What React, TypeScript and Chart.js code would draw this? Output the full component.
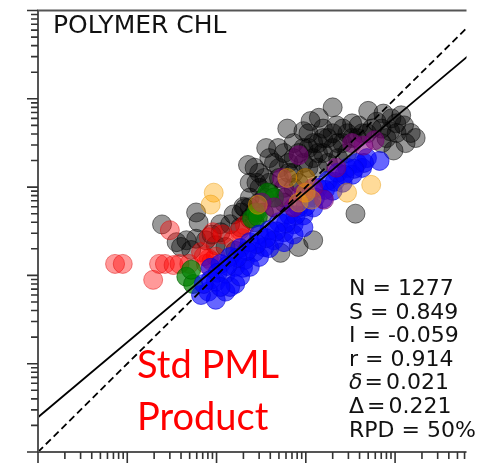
import React, { useEffect, useRef } from "react";
import { Chart, registerables } from "chart.js";

Chart.register(...registerables);

// ---- axis ranges (log10 chl) ----
const X_MIN = 0.001;
const X_MAX = 63.1;
const Y_MIN = 0.001;
const Y_MAX = 100;

// ---- statistics ----
const SLOPE = 0.849;
const INTERCEPT = -0.059;
const STAT_LINES = ["N = 1277", "S = 0.849", "I = -0.059", "r = 0.914", "δ|0.021", "Δ|0.221", "RPD = 50%"];
const TITLE = "POLYMER CHL";
const LABEL_LINES = ["Std PML", "Product"];

// ---- scatter series (in situ chl, satellite chl) ----
const BLACK_X = [0.0245, 0.0357, 0.04, 0.052, 0.046, 0.059, 0.063, 0.059, 0.076, 0.098, 0.126, 0.162, 0.155, 0.19, 0.208, 0.235, 0.2, 0.11, 0.088,
  0.267, 0.28, 0.235, 0.3, 0.344, 0.49, 0.62, 0.94, 1.13, 1.4, 2.0, 2.2, 2.6, 3.9, 5.0, 7.4, 11.7, 12.6, 10.4, 8.8, 9.6, 15, 13.1, 7.1, 6.2,
  3.6, 1.21, 0.83, 0.52, 0.73, 0.57, 0.83, 1.07, 1.37, 1.76, 0.44, 0.64, 0.94, 1.21, 1.56, 2.0, 2.58, 3.3, 4.3, 5.5, 0.5, 0.73, 0.99, 1.37,
  0.39, 0.57, 0.83, 0.3, 0.44, 0.235, 0.34, 0.267, 2.3, 2.9, 1.07, 1.56, 9.1, 3.3, 0.39, 0.36, 0.225, 0.57, 17,
  0.303, 0.39, 0.5, 0.645, 0.73, 0.94, 1.21, 1.56, 2.0, 2.27, 2.92, 3.76, 4.84, 7.06, 8.0, 10.3, 0.44, 0.57, 0.73, 1.07, 1.77, 1.37,
  0.344, 0.236, 0.267, 0.184, 0.142, 0.111];
const BLACK_Y = [0.378, 0.238, 0.21, 0.194, 0.25, 0.26, 0.4, 0.516, 0.25, 0.22, 0.21, 0.19, 0.49, 0.516, 0.58, 0.44, 0.6, 0.38, 0.29,
  1.66, 1.12, 1.12, 1.45, 1.27, 2.77, 4.6, 4.3, 5.6, 6.1, 8.0, 5.0, 4.6, 5.0, 7.3, 6.8, 6.5, 5.0, 4.1, 4.3, 2.6, 4.1, 3.15, 3.15, 5.5,
  0.5, 0.25, 0.21, 0.18, 3.15, 2.43, 2.43, 2.77, 3.15, 3.6, 1.88, 1.88, 1.88, 2.13, 2.43, 2.77, 3.15, 3.6, 4.07, 4.6, 1.27, 1.45, 1.27, 1.66,
  0.865, 0.98, 1.12, 0.668, 0.76, 0.59, 0.516, 0.4, 2.13, 2.43, 4.07, 4.6, 6.0, 5.27, 2.13, 2.77, 1.78, 0.668, 3.6,
  0.98, 1.12, 1.65, 1.45, 2.13, 2.77, 3.15, 3.59, 4.07, 3.15, 4.07, 3.59, 4.07, 4.6, 3.59, 5.27, 0.587, 0.76, 0.98, 1.65, 1.88, 2.43,
  0.76, 0.76, 0.516, 0.35, 0.38, 0.308];

const RED_X = [0.0073, 0.0089, 0.0195, 0.0227, 0.0264, 0.033, 0.0385, 0.0495, 0.03, 0.091, 0.117, 0.153, 0.193, 0.082, 0.098, 0.076, 0.067, 0.182, 0.208, 0.082, 0.088, 0.072];
const RED_Y = [0.135, 0.135, 0.089, 0.135, 0.135, 0.131, 0.135, 0.135, 0.325, 0.308, 0.292, 0.25, 0.264, 0.155, 0.163, 0.135, 0.184, 0.325, 0.37, 0.27, 0.145, 0.165];

const GREEN_X = [0.0459, 0.0546, 0.052, 0.37, 0.44, 0.28, 0.25, 0.29];
const GREEN_Y = [0.0966, 0.08, 0.116, 0.865, 0.76, 0.516, 0.44, 0.46];

const BLUE_X = [4.84, 6.7, 3.76, 2.92, 2.27, 1.77, 1.37, 1.07, 0.83, 0.645, 0.5, 0.39, 0.3, 0.236, 0.184, 0.142, 0.111, 0.086,
  4.27, 3.32, 2.58, 2.0, 1.56, 1.21, 0.94, 0.73, 0.57, 0.44, 0.344, 0.267, 0.208, 0.162, 0.126, 0.098, 0.081, 0.098, 0.126, 0.162,
  0.198, 0.067, 0.142, 0.184, 0.236, 0.3, 0.39, 0.57, 0.73, 0.94,
  4.49, 3.49, 2.71, 2.11, 1.64, 1.27, 0.99, 0.77, 0.6, 0.466, 0.362, 0.281, 0.219, 0.17, 0.132, 0.103, 0.086, 0.111, 0.072];
const BLUE_Y = [2.13, 1.98, 1.88, 1.65, 1.45, 1.18, 0.98, 0.76, 0.587, 0.49, 0.4, 0.325, 0.29, 0.238, 0.204, 0.162, 0.135, 0.122,
  1.65, 1.38, 1.12, 0.91, 0.74, 0.587, 0.478, 0.379, 0.308, 0.25, 0.209, 0.184, 0.15, 0.125, 0.104, 0.0847, 0.0655, 0.053, 0.0655, 0.08,
  0.122, 0.06, 0.074, 0.097, 0.125, 0.162, 0.204, 0.238, 0.29, 0.35,
  1.88, 1.61, 1.38, 1.15, 0.93, 0.76, 0.6, 0.48, 0.39, 0.316, 0.264, 0.226, 0.189, 0.158, 0.128, 0.107, 0.089, 0.074, 0.08];

const PURPLE_X = [5.9, 3.3, 4.4, 0.83, 2.2, 0.64, 0.32, 1.6, 0.54, 0.94, 0.44, 1.21, 0.73];
const PURPLE_Y = [3.4, 3.15, 2.95, 2.3, 1.66, 0.81, 0.668, 0.72, 1.27, 0.865, 0.59, 0.98, 0.59];

const ORANGE_X = [5.4, 2.9, 0.62, 0.99, 1.16, 1.0, 0.29, 0.093, 0.086, 0.83];
const ORANGE_Y = [1.06, 0.865, 1.27, 1.27, 0.72, 0.865, 0.63, 0.865, 0.634, 0.668];

const zip = (xs: number[], ys: number[]) => xs.map((x, i) => ({ x, y: ys[i] }));

const pointSet = (label: string, xs: number[], ys: number[], fill: string, edge: string) => ({
  type: "scatter" as const,
  label,
  data: zip(xs, ys),
  backgroundColor: fill,
  borderColor: edge,
  borderWidth: 1,
  pointRadius: 9.5,
  order: 0,
});

const decoPlugin = {
  id: "deco",
  afterDraw(chart: any) {
    const { ctx, chartArea } = chart;
    const { left, top, right, bottom } = chartArea;
    const xs = chart.scales.x;
    const ys = chart.scales.y;
    ctx.save();
    ctx.strokeStyle = "#555";
    ctx.lineWidth = 2;
    ctx.beginPath();
    ctx.moveTo(left, top);
    ctx.lineTo(left, bottom);
    ctx.moveTo(left, bottom);
    ctx.lineTo(right, bottom);
    ctx.moveTo(left - 1, top);
    ctx.lineTo(right, top);
    ctx.stroke();
    ctx.lineWidth = 1.6;
    ctx.strokeStyle = "#333";
    ctx.beginPath();
    for (let e = -3; e <= 2; e++) {
      for (let m = 1; m <= 9; m++) {
        const v = m * Math.pow(10, e);
        const len = m === 1 ? 11 : 7;
        if (v >= Y_MIN * 0.999 && v <= Y_MAX * 1.001) {
          const py = ys.getPixelForValue(v);
          ctx.moveTo(left - len, py);
          ctx.lineTo(left, py);
        }
        if (v >= X_MIN * 0.999 && v <= X_MAX) {
          const px = xs.getPixelForValue(v);
          ctx.moveTo(px, bottom);
          ctx.lineTo(px, bottom + len);
        }
      }
    }
    ctx.stroke();

    // title
    ctx.fillStyle = "#111";
    ctx.textBaseline = "alphabetic";
    ctx.font = '25px "DejaVu Sans"';
    ctx.fillText(TITLE, 53, 33);

    // stats
    const sx = 349;
    STAT_LINES.forEach((line, i) => {
      const by = 295 + i * 23.6;
      if (line.includes("|")) {
        const [sym, val] = line.split("|");
        ctx.font = sym === "δ" ? 'italic 22px "DejaVu Sans"' : '22px "DejaVu Sans"';
        ctx.fillText(sym, sx, by);
        let cx = sx + ctx.measureText(sym).width + (sym === "δ" ? 2 : 3);
        ctx.font = '22px "DejaVu Sans"';
        ctx.fillText("=", cx, by);
        cx += ctx.measureText("=").width + 3;
        ctx.fillText(val, cx, by);
      } else {
        ctx.font = '22px "DejaVu Sans"';
        ctx.fillText(line, sx, by);
      }
    });

    // red label
    ctx.fillStyle = "#ff0000";
    ctx.font = '38px Lato';
    ctx.fillText(LABEL_LINES[0], 137, 378);
    ctx.fillText(LABEL_LINES[1], 137, 430);
    ctx.restore();
  },
};

export default function App() {
  const ref = useRef<HTMLCanvasElement | null>(null);
  useEffect(() => {
    document.body.style.margin = "0";
    const canvas = ref.current;
    if (!canvas) return;
    const regX = [X_MIN, 100];
    const regY = regX.map((x) => Math.pow(10, INTERCEPT) * Math.pow(x, SLOPE));
    const chart = new Chart(canvas, {
      type: "scatter",
      data: {
        datasets: [
          {
            type: "line" as const,
            label: "1:1",
            data: [{ x: X_MIN, y: Y_MIN }, { x: 100, y: 100 }],
            borderColor: "#000",
            borderWidth: 1.8,
            borderDash: [7, 4],
            pointRadius: 0,
            fill: false,
            order: -2,
          },
          {
            type: "line" as const,
            label: "fit",
            data: zip(regX, regY),
            borderColor: "#000",
            borderWidth: 1.8,
            pointRadius: 0,
            fill: false,
            order: -2,
          },
          pointSet("orange", ORANGE_X, ORANGE_Y, "rgba(255,165,0,0.4)", "rgba(230,150,0,0.45)"),
          pointSet("purple", PURPLE_X, PURPLE_Y, "rgba(128,0,128,0.55)", "rgba(110,0,110,0.55)"),
          pointSet("blue", BLUE_X, BLUE_Y, "rgba(0,0,255,0.6)", "rgba(0,0,220,0.6)"),
          pointSet("green", GREEN_X, GREEN_Y, "rgba(0,128,0,0.7)", "rgba(0,100,0,0.7)"),
          pointSet("red", RED_X, RED_Y, "rgba(255,0,0,0.4)", "rgba(220,0,0,0.45)"),
          pointSet("black", BLACK_X, BLACK_Y, "rgba(0,0,0,0.4)", "rgba(0,0,0,0.5)"),
        ] as any,
      },
      options: {
        animation: false,
        responsive: false,
        devicePixelRatio: 1,
        layout: { padding: { left: 38, top: 6, right: 0, bottom: 11 } },
        scales: {
          x: { type: "logarithmic", min: X_MIN, max: X_MAX, display: false },
          y: { type: "logarithmic", min: Y_MIN, max: Y_MAX, display: false },
        },
        plugins: { legend: { display: false }, tooltip: { enabled: false } },
      },
      plugins: [decoPlugin],
    });
    return () => chart.destroy();
  }, []);
  return (
    <div style={{ position: "absolute", left: 0, top: 0, width: 477, height: 463, background: "#fff" }}>
      <canvas ref={ref} width={477} height={463} style={{ display: "block", width: 477, height: 463 }} />
    </div>
  );
}
